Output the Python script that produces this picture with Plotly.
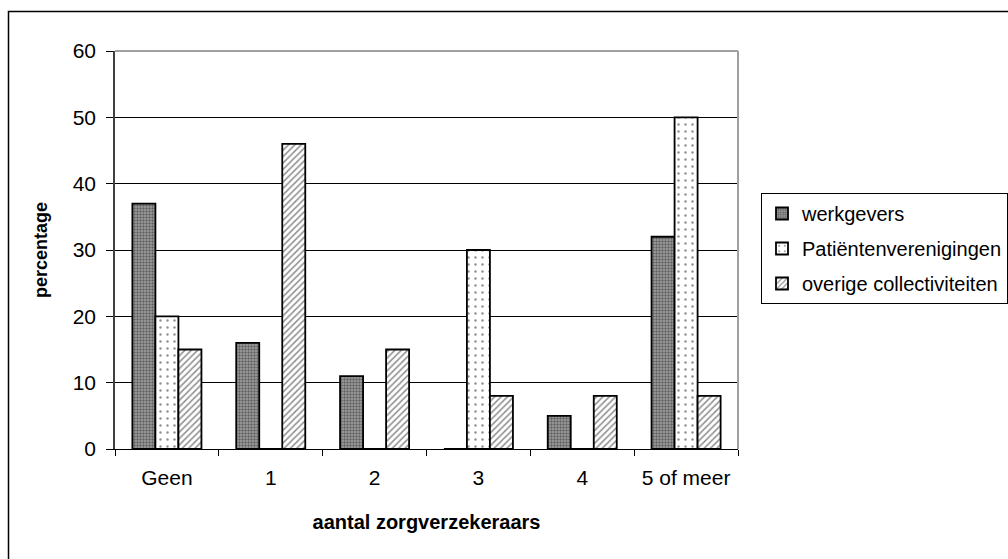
import plotly.graph_objects as go

categories = ["Geen", "1", "2", "3", "4", "5 of meer"]
werkgevers = [37, 16, 11, 0, 5, 32]
patienten = [20, 0, 0, 30, 0, 50]
overige = [15, 46, 15, 8, 8, 8]
series_names = ["werkgevers", "Patiëntenverenigingen", "overige collectiviteiten"]
y_ticks = [0, 10, 20, 30, 40, 50, 60]

W, H = 1008, 559
L, R, T, B = 115, 738, 51, 449

def px_x(p):
    return (p - L) / (R - L)

def px_y(p):
    return (B - p) / (B - T)

FONT = "Liberation Sans, Arial, sans-serif"
EDGE = dict(color="black", width=1.8)

fig = go.Figure()
fig.add_trace(go.Bar(
    x=categories, y=werkgevers, name=series_names[0], legendgroup="a",
    marker=dict(color="#888888", line=EDGE,
                pattern=dict(shape=".", fgcolor="#1e1e1e", bgcolor="#a4a4a4", size=3, solidity=0.5)),
))
fig.add_trace(go.Bar(
    x=categories, y=patienten, name=series_names[1], legendgroup="b",
    marker=dict(color="white", line=EDGE,
                pattern=dict(shape=".", fgcolor="#222222", bgcolor="white", size=7, solidity=0.1)),
))
fig.add_trace(go.Bar(
    x=categories, y=overige, name=series_names[2], legendgroup="c",
    marker=dict(color="white", line=EDGE,
                pattern=dict(shape="/", fgcolor="#222222", bgcolor="white", size=4.5, solidity=0.35)),
))

fig.update_layout(
    width=W, height=H,
    margin=dict(l=L, r=W - R, t=T, b=H - B, pad=0, autoexpand=False),
    paper_bgcolor="white", plot_bgcolor="white",
    barmode="group", bargap=0.335, bargroupgap=0,
    font=dict(family=FONT, size=21, color="black"),
    showlegend=True,
    legend=dict(
        x=px_x(761), y=px_y(193), xanchor="left", yanchor="top",
        bordercolor="black", borderwidth=1, bgcolor="white",
        font=dict(family=FONT, size=20, color="black"),
        traceorder="grouped", itemwidth=30, tracegroupgap=6,
    ),
    xaxis=dict(
        type="category", showline=True, linecolor="black", linewidth=1,
        ticks="outside", tickson="boundaries", ticklen=6, tickcolor="black",
        showgrid=False, tickfont=dict(family=FONT, size=21), ticklabelstandoff=10,
        title=dict(text="aantal zorgverzekeraars", font=dict(family=FONT, size=20, weight="bold"), standoff=26),
    ),
    yaxis=dict(
        range=[0, 60], tickvals=y_ticks, showline=True, linecolor="#404040", linewidth=1.5,
        ticks="outside", ticklen=7, tickcolor="black",
        showgrid=True, gridcolor="black", gridwidth=1, zeroline=False,
        tickfont=dict(family=FONT, size=21), ticklabelstandoff=6,
        title=dict(text="percentage", font=dict(family=FONT, size=18, weight="bold"), standoff=20),
    ),
    shapes=[
        dict(type="line", xref="paper", yref="paper", x0=0, x1=1, y0=1, y1=1,
             line=dict(color="#a0a0a0", width=2), layer="above"),
        dict(type="line", xref="paper", yref="paper", x0=1, x1=1, y0=0, y1=1,
             line=dict(color="#a0a0a0", width=2), layer="above"),
        dict(type="rect", xref="paper", yref="paper",
             x0=px_x(8.5), x1=px_x(1030), y0=px_y(580), y1=px_y(11.5),
             line=dict(color="black", width=1.5), layer="above"),
    ],
)

fig.write_html("out.html")
